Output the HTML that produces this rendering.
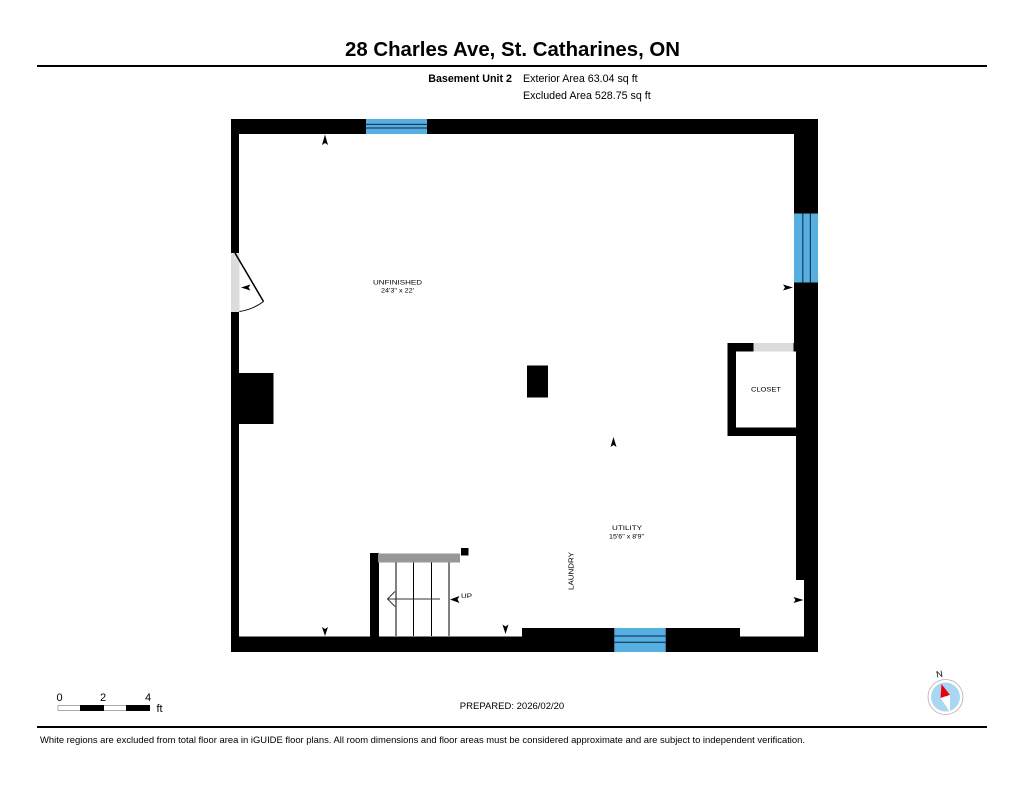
<!DOCTYPE html>
<html><head><meta charset="utf-8"><style>
html,body{margin:0;padding:0;background:#fff;width:1024px;height:791px;overflow:hidden}
svg{display:block}
text{font-family:"Liberation Sans",sans-serif;fill:#000}
</style></head><body>
<svg width="1024" height="791" viewBox="0 0 1024 791" xmlns="http://www.w3.org/2000/svg">
<rect width="1024" height="791" fill="#fff"/>
<text x="345" y="56" font-size="20.5" font-weight="bold" textLength="335" lengthAdjust="spacingAndGlyphs">28 Charles Ave, St. Catharines, ON</text>
<rect x="37" y="65" width="950" height="2" fill="#000"/>
<text x="512" y="82" font-size="10.700" font-weight="bold" text-anchor="end">Basement Unit 2</text>
<text x="523" y="82" font-size="10.700">Exterior Area 63.04 sq ft</text>
<text x="523" y="99" font-size="10.700">Excluded Area 528.75 sq ft</text>

<!-- walls -->
<path fill="#000" d="M231 119H818V652H231Z M239 134V636.500H370V553H379V636.500H522V628H740V636.500H804V580H796V351H794V134Z" fill-rule="evenodd"/>
<!-- top window -->
<rect x="366" y="119" width="61" height="15" fill="#57aee0"/>
<rect x="366" y="123.800" width="61" height="1.200" fill="#123c5c"/>
<rect x="366" y="127.400" width="61" height="1.200" fill="#123c5c"/>
<!-- right window -->
<rect x="794" y="213.500" width="24" height="69" fill="#57aee0"/>
<rect x="802.200" y="213.500" width="1.200" height="69" fill="#123c5c"/>
<rect x="809.800" y="213.500" width="1.200" height="69" fill="#123c5c"/>
<!-- bottom window -->
<rect x="614.300" y="628" width="51.400" height="24" fill="#57aee0"/>
<rect x="614.300" y="635.400" width="51.400" height="1.200" fill="#123c5c"/>
<rect x="614.300" y="641.700" width="51.400" height="1.200" fill="#123c5c"/>
<!-- door -->
<rect x="231" y="253" width="8.500" height="59" fill="#dcdcdc"/>
<path d="M235 253L263.500 301.500" stroke="#000" stroke-width="1.500" fill="none"/>
<path d="M239.500 311.500Q253 309.500 263.500 301.500" stroke="#000" stroke-width="1" fill="none"/>
<!-- left block / pillar -->
<rect x="231" y="373" width="42.500" height="51" fill="#000"/>
<rect x="527" y="365.500" width="21" height="32" fill="#000"/>
<!-- closet -->
<path fill="#000" fill-rule="evenodd" d="M727.500 343H797V436H727.500Z M736 351.500V427.500H796V351.500Z"/>
<rect x="796" y="427.500" width="3" height="8.500" fill="#000"/>
<rect x="753.500" y="343" width="40" height="8.500" fill="#dcdcdc"/>
<rect x="793.500" y="343" width="3" height="8.500" fill="#000"/>
<!-- stairs -->
<rect x="378" y="553.500" width="82" height="9" fill="#979797"/>
<rect x="461" y="548" width="7.500" height="7.500" fill="#000"/>
<g stroke="#000" stroke-width="1" fill="none">
<path d="M396 562.500V636M413.500 562.500V636M431.500 562.500V636M449 562.500V636"/>
<path d="M387.500 599H440" stroke="#333"/>
<path d="M395 591.500L387.500 599L395 606.500" stroke="#333"/>
</g>
<!-- view markers -->
<g fill="#000">
<path d="M325 134.500L328 145L325 143L322 145Z"/>
<path d="M241 287.500L250.500 284.500L248.500 287.500L250.500 290.500Z"/>
<path d="M793 287.500L783 284.500L785 287.500L783 290.500Z"/>
<path d="M613.500 437L616.500 447L613.500 445L610.500 447Z"/>
<path d="M325 636L322 627L325 629L328 627Z"/>
<path d="M505.500 634L502.500 624.500L505.500 626.500L508.500 624.500Z"/>
<path d="M450 599.500L459.500 596L457.500 599.500L459.500 603Z"/>
<path d="M803.500 600L793.500 597L795.500 600L793.500 603Z"/>
</g>
<!-- labels -->
<g font-size="6.500" fill="#000">
<text x="373" y="284.500" textLength="49" lengthAdjust="spacingAndGlyphs">UNFINISHED</text>
<text x="381" y="292.500" textLength="33" lengthAdjust="spacingAndGlyphs">24'3" x 22'</text>
<text x="751" y="391.500" textLength="30" lengthAdjust="spacingAndGlyphs">CLOSET</text>
<text x="612" y="530" textLength="30" lengthAdjust="spacingAndGlyphs">UTILITY</text>
<text x="609" y="538.500" textLength="35" lengthAdjust="spacingAndGlyphs">15'6" x 8'9"</text>
<text x="461" y="598" textLength="11" lengthAdjust="spacingAndGlyphs">UP</text>
<text transform="translate(573.500 590) rotate(-90)" font-size="7" textLength="38" lengthAdjust="spacingAndGlyphs">LAUNDRY</text>
</g>
<!-- footer -->
<g fill="#000">
<text x="56.500" y="701" font-size="11">0</text>
<text x="100" y="701" font-size="11">2</text>
<text x="145" y="701" font-size="11">4</text>
<text x="156.500" y="712" font-size="11">ft</text>
</g>
<rect x="58" y="705.500" width="91.500" height="5" fill="#fff" stroke="#888" stroke-width="0.700"/>
<rect x="80" y="705" width="24" height="6" fill="#000"/>
<rect x="126" y="705" width="24" height="6" fill="#000"/>
<text x="512" y="709" font-size="9.500" text-anchor="middle">PREPARED: 2026/02/20</text>
<rect x="37" y="726" width="950" height="2" fill="#000"/>
<text x="40" y="743" font-size="9.400" textLength="765" lengthAdjust="spacingAndGlyphs">White regions are excluded from total floor area in iGUIDE floor plans. All room dimensions and floor areas must be considered approximate and are subject to independent verification.</text>
<!-- compass -->
<circle cx="945.500" cy="697" r="17.500" fill="#fff" stroke="#b9a9a9" stroke-width="0.800"/>
<circle cx="945.500" cy="697" r="14.500" fill="#a9d6f3"/>
<path d="M941.500 684L948 697L951 701Z" fill="#fff"/>
<path d="M941.500 684L940.500 698L950 695Z" fill="#e8000e"/>
<path d="M940.500 698L950 695L950 712Z" fill="#fff"/>
<text x="940" y="677" font-size="9" text-anchor="middle" transform="rotate(-10 940 677)">N</text>
</svg>
</body></html>
